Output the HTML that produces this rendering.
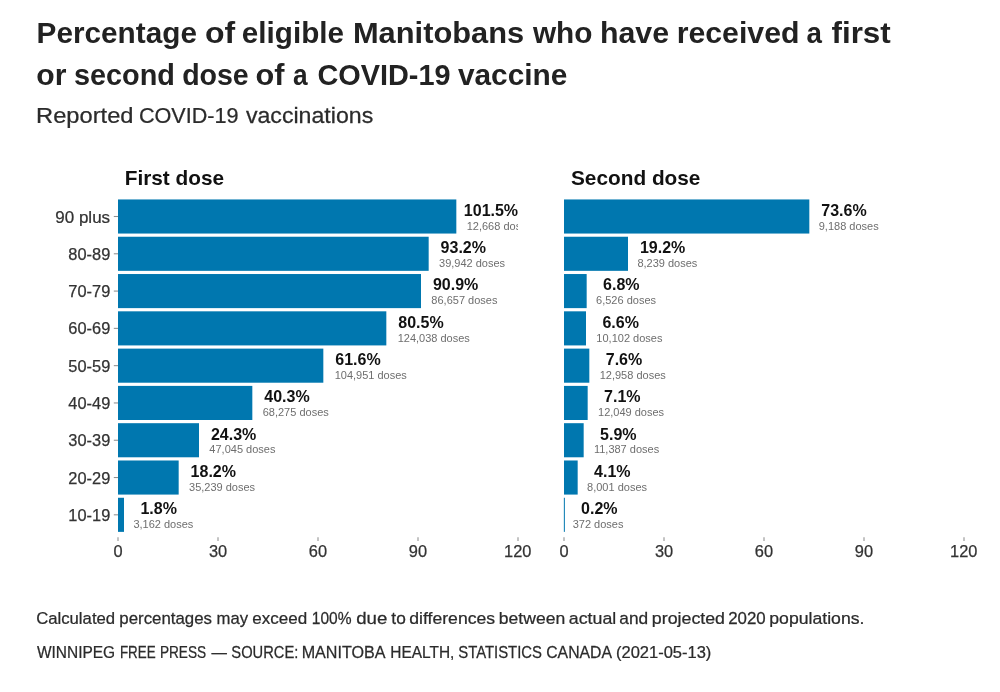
<!DOCTYPE html>
<html lang="en"><head><meta charset="utf-8"><title>Manitoba vaccinations</title>
<style>html,body{margin:0;padding:0;background:#fff}svg{display:block}text{font-family:'Liberation Sans', sans-serif;white-space:pre}</style></head><body>
<svg width="1000" height="692" viewBox="0 0 1000 692">
<rect width="1000" height="692" fill="#ffffff"/>
<defs><clipPath id="cp0"><rect x="0" y="190" width="518" height="350"/></clipPath><clipPath id="cp1"><rect x="0" y="190" width="964" height="350"/></clipPath></defs>
<g fill="#0077af">
<rect x="118.00" y="199.45" width="338.33" height="34.10"/>
<rect x="564.00" y="199.45" width="245.33" height="34.10"/>
<rect x="118.00" y="236.74" width="310.67" height="34.10"/>
<rect x="564.00" y="236.74" width="64.00" height="34.10"/>
<rect x="118.00" y="274.03" width="303.00" height="34.10"/>
<rect x="564.00" y="274.03" width="22.67" height="34.10"/>
<rect x="118.00" y="311.32" width="268.33" height="34.10"/>
<rect x="564.00" y="311.32" width="22.00" height="34.10"/>
<rect x="118.00" y="348.61" width="205.33" height="34.10"/>
<rect x="564.00" y="348.61" width="25.33" height="34.10"/>
<rect x="118.00" y="385.90" width="134.33" height="34.10"/>
<rect x="564.00" y="385.90" width="23.67" height="34.10"/>
<rect x="118.00" y="423.19" width="81.00" height="34.10"/>
<rect x="564.00" y="423.19" width="19.67" height="34.10"/>
<rect x="118.00" y="460.48" width="60.67" height="34.10"/>
<rect x="564.00" y="460.48" width="13.67" height="34.10"/>
<rect x="118.00" y="497.77" width="6.00" height="34.10"/>
<rect x="563.85" y="497.77" width="1.00" height="34.10"/>
</g>
<g stroke="#909090" stroke-width="1.07" fill="none">
<line x1="113.80" y1="216.50" x2="118.00" y2="216.50"/>
<line x1="113.80" y1="253.79" x2="118.00" y2="253.79"/>
<line x1="113.80" y1="291.08" x2="118.00" y2="291.08"/>
<line x1="113.80" y1="328.37" x2="118.00" y2="328.37"/>
<line x1="113.80" y1="365.66" x2="118.00" y2="365.66"/>
<line x1="113.80" y1="402.95" x2="118.00" y2="402.95"/>
<line x1="113.80" y1="440.24" x2="118.00" y2="440.24"/>
<line x1="113.80" y1="477.53" x2="118.00" y2="477.53"/>
<line x1="113.80" y1="514.82" x2="118.00" y2="514.82"/>
<line x1="118.00" y1="537.20" x2="118.00" y2="541.00"/>
<line x1="218.00" y1="537.20" x2="218.00" y2="541.00"/>
<line x1="318.00" y1="537.20" x2="318.00" y2="541.00"/>
<line x1="418.00" y1="537.20" x2="418.00" y2="541.00"/>
<line x1="518.00" y1="537.20" x2="518.00" y2="541.00"/>
<line x1="564.00" y1="537.20" x2="564.00" y2="541.00"/>
<line x1="664.00" y1="537.20" x2="664.00" y2="541.00"/>
<line x1="764.00" y1="537.20" x2="764.00" y2="541.00"/>
<line x1="864.00" y1="537.20" x2="864.00" y2="541.00"/>
<line x1="964.00" y1="537.20" x2="964.00" y2="541.00"/>
</g>
<text transform="translate(36.61,43.40) scale(1.0085,1)" font-size="29.5" font-weight="bold" fill="#222222">Percentage</text>
<text transform="translate(205.05,43.40) scale(1.0842,1)" font-size="29.5" font-weight="bold" fill="#222222">of</text>
<text transform="translate(241.84,43.40) scale(1.0053,1)" font-size="29.5" font-weight="bold" fill="#222222">eligible</text>
<text transform="translate(352.94,43.40) scale(1.0454,1)" font-size="29.5" font-weight="bold" fill="#222222">Manitobans</text>
<text transform="translate(532.89,43.40) scale(1.0100,1)" font-size="29.5" font-weight="bold" fill="#222222">who</text>
<text transform="translate(599.88,43.40) scale(1.0285,1)" font-size="29.5" font-weight="bold" fill="#222222">have</text>
<text transform="translate(676.71,43.40) scale(1.0256,1)" font-size="29.5" font-weight="bold" fill="#222222">received</text>
<text transform="translate(806.39,43.40) scale(0.9409,1)" font-size="29.5" font-weight="bold" fill="#222222">a</text>
<text transform="translate(831.46,43.40) scale(1.0644,1)" font-size="29.5" font-weight="bold" fill="#222222">first</text>
<text transform="translate(36.32,84.70) scale(1.0215,1)" font-size="29.5" font-weight="bold" fill="#222222">or</text>
<text transform="translate(73.99,84.70) scale(0.9771,1)" font-size="29.5" font-weight="bold" fill="#222222">second</text>
<text transform="translate(182.13,84.70) scale(0.9680,1)" font-size="29.5" font-weight="bold" fill="#222222">dose</text>
<text transform="translate(255.50,84.70) scale(1.0393,1)" font-size="29.5" font-weight="bold" fill="#222222">of</text>
<text transform="translate(292.93,84.70) scale(0.8900,1)" font-size="29.5" font-weight="bold" fill="#222222">a</text>
<text transform="translate(317.42,84.70) scale(0.9786,1)" font-size="29.5" font-weight="bold" fill="#222222">COVID-19</text>
<text transform="translate(457.88,84.70) scale(1.0110,1)" font-size="29.5" font-weight="bold" fill="#222222">vaccine</text>
<text transform="translate(36.06,123.30) scale(1.1020,1)" font-size="21.5" fill="#2b2b2b" stroke="#2b2b2b" stroke-width="0.25">Reported</text>
<text transform="translate(138.90,123.30) scale(1.0056,1)" font-size="21.5" fill="#2b2b2b" stroke="#2b2b2b" stroke-width="0.25">COVID-19</text>
<text transform="translate(245.92,123.30) scale(1.0761,1)" font-size="21.5" fill="#2b2b2b" stroke="#2b2b2b" stroke-width="0.25">vaccinations</text>
<text transform="translate(36.15,623.50) scale(0.9954,1)" font-size="16.8" fill="#2b2b2b" stroke="#2b2b2b" stroke-width="0.25">Calculated</text>
<text transform="translate(119.31,623.50) scale(1.0025,1)" font-size="16.8" fill="#2b2b2b" stroke="#2b2b2b" stroke-width="0.25">percentages</text>
<text transform="translate(216.49,623.50) scale(0.9950,1)" font-size="16.8" fill="#2b2b2b" stroke="#2b2b2b" stroke-width="0.25">may</text>
<text transform="translate(252.28,623.50) scale(1.0131,1)" font-size="16.8" fill="#2b2b2b" stroke="#2b2b2b" stroke-width="0.25">exceed</text>
<text transform="translate(311.82,623.50) scale(0.9259,1)" font-size="16.8" fill="#2b2b2b" stroke="#2b2b2b" stroke-width="0.25">100%</text>
<text transform="translate(356.22,623.50) scale(1.1112,1)" font-size="16.8" fill="#2b2b2b" stroke="#2b2b2b" stroke-width="0.25">due</text>
<text transform="translate(391.34,623.50) scale(1.0280,1)" font-size="16.8" fill="#2b2b2b" stroke="#2b2b2b" stroke-width="0.25">to</text>
<text transform="translate(409.26,623.50) scale(1.0488,1)" font-size="16.8" fill="#2b2b2b" stroke="#2b2b2b" stroke-width="0.25">differences</text>
<text transform="translate(498.87,623.50) scale(1.0445,1)" font-size="16.8" fill="#2b2b2b" stroke="#2b2b2b" stroke-width="0.25">between</text>
<text transform="translate(568.85,623.50) scale(1.0572,1)" font-size="16.8" fill="#2b2b2b" stroke="#2b2b2b" stroke-width="0.25">actual</text>
<text transform="translate(619.26,623.50) scale(1.0304,1)" font-size="16.8" fill="#2b2b2b" stroke="#2b2b2b" stroke-width="0.25">and</text>
<text transform="translate(651.85,623.50) scale(1.0588,1)" font-size="16.8" fill="#2b2b2b" stroke="#2b2b2b" stroke-width="0.25">projected</text>
<text transform="translate(728.15,623.50) scale(1.0047,1)" font-size="16.8" fill="#2b2b2b" stroke="#2b2b2b" stroke-width="0.25">2020</text>
<text transform="translate(769.26,623.50) scale(1.0514,1)" font-size="16.8" fill="#2b2b2b" stroke="#2b2b2b" stroke-width="0.25">populations.</text>
<text transform="translate(36.93,657.60) scale(0.9440,1)" font-size="16.4" fill="#2b2b2b" stroke="#2b2b2b" stroke-width="0.25">WINNIPEG</text>
<text transform="translate(119.90,657.60) scale(0.8161,1)" font-size="16.4" fill="#2b2b2b" stroke="#2b2b2b" stroke-width="0.25">FREE</text>
<text transform="translate(159.88,657.60) scale(0.8323,1)" font-size="16.4" fill="#2b2b2b" stroke="#2b2b2b" stroke-width="0.25">PRESS</text>
<text transform="translate(211.60,657.60) scale(0.9396,1)" font-size="16.4" fill="#2b2b2b" stroke="#2b2b2b" stroke-width="0.25">—</text>
<text transform="translate(231.33,657.60) scale(0.8973,1)" font-size="16.4" fill="#2b2b2b" stroke="#2b2b2b" stroke-width="0.25">SOURCE:</text>
<text transform="translate(301.68,657.60) scale(0.9830,1)" font-size="16.4" fill="#2b2b2b" stroke="#2b2b2b" stroke-width="0.25">MANITOBA</text>
<text transform="translate(390.33,657.60) scale(0.9419,1)" font-size="16.4" fill="#2b2b2b" stroke="#2b2b2b" stroke-width="0.25">HEALTH,</text>
<text transform="translate(458.32,657.60) scale(0.9066,1)" font-size="16.4" fill="#2b2b2b" stroke="#2b2b2b" stroke-width="0.25">STATISTICS</text>
<text transform="translate(546.20,657.60) scale(0.9638,1)" font-size="16.4" fill="#2b2b2b" stroke="#2b2b2b" stroke-width="0.25">CANADA</text>
<text transform="translate(615.98,657.60) scale(1.0073,1)" font-size="16.4" fill="#2b2b2b" stroke="#2b2b2b" stroke-width="0.25">(2021-05-13)</text>
<text transform="translate(124.71,184.50)" font-size="20.8" font-weight="bold" fill="#111111">First dose</text>
<text transform="translate(571.00,184.50)" font-size="20.8" font-weight="bold" fill="#111111">Second dose</text>
<text transform="translate(55.31,222.50) scale(1.0370,1)" font-size="16.4" fill="#333333" stroke="#333333" stroke-width="0.25">90 plus</text>
<g clip-path="url(#cp0)"><text transform="translate(463.83,215.90)" font-size="16" font-weight="bold" fill="#111111">101.5%</text></g>
<g clip-path="url(#cp0)"><text transform="translate(466.70,229.70)" font-size="11" fill="#6e6e6e">12,668 doses</text></g>
<g clip-path="url(#cp1)"><text transform="translate(821.28,215.90)" font-size="16" font-weight="bold" fill="#111111">73.6%</text></g>
<g clip-path="url(#cp1)"><text transform="translate(818.74,229.70)" font-size="11" fill="#6e6e6e">9,188 doses</text></g>
<text transform="translate(68.36,259.79)" font-size="16.4" fill="#333333" stroke="#333333" stroke-width="0.25">80-89</text>
<g clip-path="url(#cp0)"><text transform="translate(440.62,253.19)" font-size="16" font-weight="bold" fill="#111111">93.2%</text></g>
<g clip-path="url(#cp0)"><text transform="translate(439.04,266.99)" font-size="11" fill="#6e6e6e">39,942 doses</text></g>
<g clip-path="url(#cp1)"><text transform="translate(639.95,253.19)" font-size="16" font-weight="bold" fill="#111111">19.2%</text></g>
<g clip-path="url(#cp1)"><text transform="translate(637.41,266.99)" font-size="11" fill="#6e6e6e">8,239 doses</text></g>
<text transform="translate(68.36,297.08)" font-size="16.4" fill="#333333" stroke="#333333" stroke-width="0.25">70-79</text>
<g clip-path="url(#cp0)"><text transform="translate(432.95,290.48)" font-size="16" font-weight="bold" fill="#111111">90.9%</text></g>
<g clip-path="url(#cp0)"><text transform="translate(431.37,304.28)" font-size="11" fill="#6e6e6e">86,657 doses</text></g>
<g clip-path="url(#cp1)"><text transform="translate(603.07,290.48)" font-size="16" font-weight="bold" fill="#111111">6.8%</text></g>
<g clip-path="url(#cp1)"><text transform="translate(596.08,304.28)" font-size="11" fill="#6e6e6e">6,526 doses</text></g>
<text transform="translate(68.36,334.37)" font-size="16.4" fill="#333333" stroke="#333333" stroke-width="0.25">60-69</text>
<g clip-path="url(#cp0)"><text transform="translate(398.28,327.77)" font-size="16" font-weight="bold" fill="#111111">80.5%</text></g>
<g clip-path="url(#cp0)"><text transform="translate(397.66,341.57)" font-size="11" fill="#6e6e6e">124,038 doses</text></g>
<g clip-path="url(#cp1)"><text transform="translate(602.40,327.77)" font-size="16" font-weight="bold" fill="#111111">6.6%</text></g>
<g clip-path="url(#cp1)"><text transform="translate(596.37,341.57)" font-size="11" fill="#6e6e6e">10,102 doses</text></g>
<text transform="translate(68.36,371.66)" font-size="16.4" fill="#333333" stroke="#333333" stroke-width="0.25">50-59</text>
<g clip-path="url(#cp0)"><text transform="translate(335.28,365.06)" font-size="16" font-weight="bold" fill="#111111">61.6%</text></g>
<g clip-path="url(#cp0)"><text transform="translate(334.66,378.86)" font-size="11" fill="#6e6e6e">104,951 doses</text></g>
<g clip-path="url(#cp1)"><text transform="translate(605.73,365.06)" font-size="16" font-weight="bold" fill="#111111">7.6%</text></g>
<g clip-path="url(#cp1)"><text transform="translate(599.70,378.86)" font-size="11" fill="#6e6e6e">12,958 doses</text></g>
<text transform="translate(68.36,408.95)" font-size="16.4" fill="#333333" stroke="#333333" stroke-width="0.25">40-49</text>
<g clip-path="url(#cp0)"><text transform="translate(264.28,402.35)" font-size="16" font-weight="bold" fill="#111111">40.3%</text></g>
<g clip-path="url(#cp0)"><text transform="translate(262.70,416.15)" font-size="11" fill="#6e6e6e">68,275 doses</text></g>
<g clip-path="url(#cp1)"><text transform="translate(604.07,402.35)" font-size="16" font-weight="bold" fill="#111111">7.1%</text></g>
<g clip-path="url(#cp1)"><text transform="translate(598.04,416.15)" font-size="11" fill="#6e6e6e">12,049 doses</text></g>
<text transform="translate(68.36,446.24)" font-size="16.4" fill="#333333" stroke="#333333" stroke-width="0.25">30-39</text>
<g clip-path="url(#cp0)"><text transform="translate(210.95,439.64)" font-size="16" font-weight="bold" fill="#111111">24.3%</text></g>
<g clip-path="url(#cp0)"><text transform="translate(209.37,453.44)" font-size="11" fill="#6e6e6e">47,045 doses</text></g>
<g clip-path="url(#cp1)"><text transform="translate(600.07,439.64)" font-size="16" font-weight="bold" fill="#111111">5.9%</text></g>
<g clip-path="url(#cp1)"><text transform="translate(593.91,453.44)" font-size="11" fill="#6e6e6e">11,387 doses</text></g>
<text transform="translate(68.36,483.53)" font-size="16.4" fill="#333333" stroke="#333333" stroke-width="0.25">20-29</text>
<g clip-path="url(#cp0)"><text transform="translate(190.62,476.93)" font-size="16" font-weight="bold" fill="#111111">18.2%</text></g>
<g clip-path="url(#cp0)"><text transform="translate(189.04,490.73)" font-size="11" fill="#6e6e6e">35,239 doses</text></g>
<g clip-path="url(#cp1)"><text transform="translate(594.07,476.93)" font-size="16" font-weight="bold" fill="#111111">4.1%</text></g>
<g clip-path="url(#cp1)"><text transform="translate(587.08,490.73)" font-size="11" fill="#6e6e6e">8,001 doses</text></g>
<text transform="translate(68.36,520.82)" font-size="16.4" fill="#333333" stroke="#333333" stroke-width="0.25">10-19</text>
<g clip-path="url(#cp0)"><text transform="translate(140.40,514.22)" font-size="16" font-weight="bold" fill="#111111">1.8%</text></g>
<g clip-path="url(#cp0)"><text transform="translate(133.41,528.02)" font-size="11" fill="#6e6e6e">3,162 doses</text></g>
<g clip-path="url(#cp1)"><text transform="translate(581.07,514.22)" font-size="16" font-weight="bold" fill="#111111">0.2%</text></g>
<g clip-path="url(#cp1)"><text transform="translate(572.64,528.02)" font-size="11" fill="#6e6e6e">372 doses</text></g>
<text transform="translate(113.44,556.60)" font-size="16.4" fill="#333333" stroke="#333333" stroke-width="0.25">0</text>
<text transform="translate(208.89,556.60)" font-size="16.4" fill="#333333" stroke="#333333" stroke-width="0.25">30</text>
<text transform="translate(308.79,556.60)" font-size="16.4" fill="#333333" stroke="#333333" stroke-width="0.25">60</text>
<text transform="translate(408.82,556.60)" font-size="16.4" fill="#333333" stroke="#333333" stroke-width="0.25">90</text>
<text transform="translate(504.02,556.60)" font-size="16.4" fill="#333333" stroke="#333333" stroke-width="0.25">120</text>
<text transform="translate(559.44,556.60)" font-size="16.4" fill="#333333" stroke="#333333" stroke-width="0.25">0</text>
<text transform="translate(654.89,556.60)" font-size="16.4" fill="#333333" stroke="#333333" stroke-width="0.25">30</text>
<text transform="translate(754.79,556.60)" font-size="16.4" fill="#333333" stroke="#333333" stroke-width="0.25">60</text>
<text transform="translate(854.82,556.60)" font-size="16.4" fill="#333333" stroke="#333333" stroke-width="0.25">90</text>
<text transform="translate(950.02,556.60)" font-size="16.4" fill="#333333" stroke="#333333" stroke-width="0.25">120</text>
</svg></body></html>
